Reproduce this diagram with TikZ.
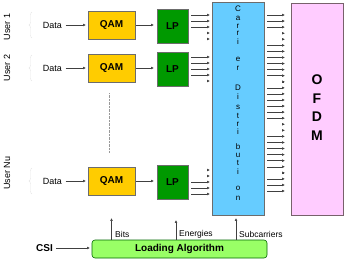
\documentclass[tikz,border=0pt]{standalone}
\usepackage{fontspec}
\setmainfont{Liberation Sans}
\usetikzlibrary{arrows.meta,decorations.pathreplacing}
\definecolor{qamyellow}{HTML}{FFCC00}
\definecolor{lpgreen}{HTML}{009900}
\definecolor{cdblue}{HTML}{66CCFF}
\definecolor{ofdmpink}{HTML}{FFCCFF}
\definecolor{loadgreen}{HTML}{99FF66}

\begin{document}
\begin{tikzpicture}[x=1pt,y=-1pt,
  box/.style={draw=gray!85!black,line width=0.6pt,inner sep=0pt,font=\fontsize{10}{12}\selectfont\bfseries},
  sig/.style={draw=black!75,line width=0.5pt,-{Triangle[length=2.6pt,width=2.4pt]}},
  wire/.style={sig,shorten <=3pt,shorten >=2pt},
  stub/.style={sig,shorten <=20pt,shorten >=2pt},
  owire/.style={sig,shorten <=3pt,shorten >=6pt},
  ostub/.style={sig,shorten <=20pt,shorten >=6pt},
  lbl/.style={font=\fontsize{9}{10}\selectfont},
  small/.style={font=\fontsize{8.5}{10}\selectfont,inner sep=0pt,anchor=west},
  brc/.style={draw=gray!20,line width=0.4pt,decorate,decoration={brace,amplitude=3pt}}]
\useasboundingbox (0,0) rectangle (348,259);
\node[box,fill=cdblue,minimum width=52pt,minimum height=213pt] (carrier) at (238,108.5) {};
\node[box,fill=ofdmpink,draw=gray!70!magenta!60!black,minimum width=52pt,minimum height=212pt] (ofdm) at (317,109) {};
\node[box,fill=loadgreen,draw=green!40!black,rounded corners=3pt,minimum width=175pt,minimum height=18pt] (load) at (179.5,249) {Loading Algorithm};
\foreach \n/\y/\ly/\name in {1/25/27/User 1,2/68/68/User 2,N/181/173/User Nu}{
  \node[lbl,rotate=90] (user\n) at (7,\ly) {\name};
  \node[lbl] (data\n) at (52.5,\y) {Data};
  \node[box,fill=qamyellow,minimum width=47pt,minimum height=28pt] (qam\n) at (111.5,\y) {QAM};
  \node[box,fill=lpgreen,minimum width=31pt,minimum height=34pt] (lp\n) at (172.5,\y+1) {LP};
  \draw[brc] (32,\y+13) -- (32,\y-13);
  \draw[sig,shorten >=2pt] (data\n.east) -- (qam\n.west);
  \draw[sig,shorten <=1pt,shorten >=3pt] (qam\n.east) -- (lp\n.west |- qam\n.east);
}
\foreach \n/\y/\s in {1/15/wire,1/21/wire,1/27/wire,1/33/stub,1/39/stub,2/57/wire,2/63/wire,2/69/wire,2/75/wire,2/81/stub,N/170/stub,N/176/stub,N/182/wire,N/188/wire,N/194/wire}
  \draw[\s] (lp\n.east |- 0,\y) -- (carrier.west |- 0,\y);
\foreach \s [count=\i from 0] in {owire,owire,owire,ostub,ostub,owire,owire,owire,owire,owire,owire,ostub,owire,owire,owire,owire,owire,owire,ostub,ostub,owire,owire,owire,owire,owire,owire,ostub,owire,owire,owire}{
  \pgfmathsetmacro\y{15+6.07*\i}
  \draw[\s] (carrier.east |- 0,\y) -- (ofdm.west |- 0,\y);
}
\foreach \c/\y [count=\k] in {C/9,a/18,r/26,r/33,i/42,e/59,r/68,D/88,i/97,s/107,t/116,r/124,i/132,b/147,u/155,t/163,i/172,o/188,n/198}
  \node[font=\fontsize{8}{9}\selectfont,inner sep=0pt] (cd\k) at (carrier.center |- 0,\y) {\c};
\foreach \c/\y [count=\k] in {O/80,F/98.5,D/117,M/135.5}
  \node[font=\fontsize{14}{16}\selectfont\bfseries,inner sep=0pt] (of\k) at (ofdm.center |- 0,\y) {\c};
\draw[gray!80,densely dotted,line width=0.4pt,shorten <=11pt,shorten >=14pt] (qam2.south -| 109,0) -- (qamN.north -| 109,0);
\draw[sig,shorten >=23pt] (load.north -| qamN.south) -- (qamN.south);
\draw[sig,shorten >=21pt] (load.north -| 176,0) -- (lpN.south -| 176,0);
\draw[sig,shorten >=3pt] (load.north -| 236,0) -- (carrier.south -| 236,0);
\node[small] (bits) at (115,234) {Bits};
\node[small] (energies) at (179,234) {Energies};
\node[small] (subc) at (239,234) {Subcarriers};
\node[box,draw=none] (csi) at (44.5,248) {CSI};
\draw[sig,shorten <=3pt,shorten >=2pt] (csi.east) -- (load.west |- csi.east);
\end{tikzpicture}
\end{document}
